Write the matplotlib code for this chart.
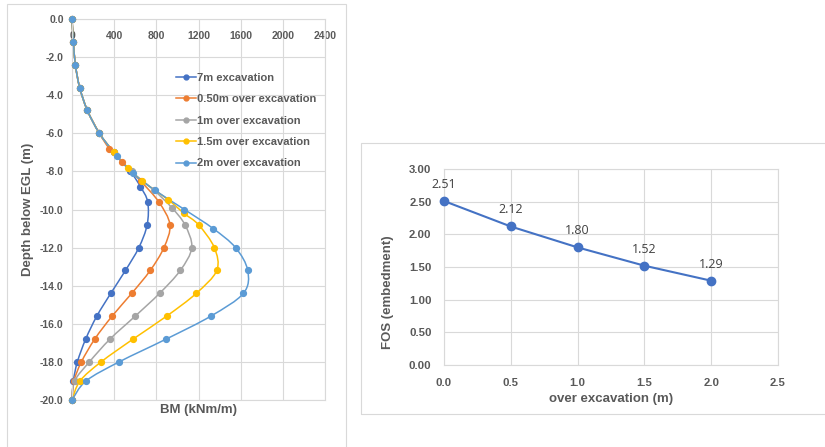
import numpy as np
import matplotlib
matplotlib.use("Agg")
import matplotlib.pyplot as plt
from matplotlib.path import Path
from matplotlib.patches import PathPatch, Rectangle
from matplotlib.lines import Line2D
from matplotlib.ticker import FormatStrFormatter

plt.rcParams['font.family'] = ['Liberation Sans', 'DejaVu Sans']

# BM profiles (kNm/m) vs depth below EGL (m)
names = ["7m excavation", "0.50m over excavation", "1m over excavation",
         "1.5m over excavation", "2m over excavation"]
colors = ["#4472C4", "#ED7D31", "#A5A5A5", "#FFC000", "#5B9BD5"]

depth_7 = [0, -1.2, -2.4, -3.6, -4.8, -6.0, -7.0, -8.0, -8.8, -9.6, -10.8,
           -12.0, -13.2, -14.4, -15.6, -16.8, -18.0, -19.0, -20.0]
bm_7 = [0, 13, 32, 73, 146, 260, 395, 554, 649, 718, 713,
        634, 507, 368, 235, 130, 51, 13, 0]

depth_05 = [0, -1.2, -2.4, -3.6, -4.8, -6.0, -6.8, -7.5, -8.5, -9.6, -10.8,
            -12.0, -13.2, -14.4, -15.6, -16.8, -18.0, -19.0, -20.0]
bm_05 = [0, 13, 32, 73, 146, 260, 354, 475, 650, 823, 929,
         872, 742, 567, 380, 216, 89, 19, 0]

depth_1 = [0, -1.2, -2.4, -3.6, -4.8, -6.0, -7.0, -8.0, -9.0, -9.9, -10.8,
           -12.0, -13.2, -14.4, -15.6, -16.8, -18.0, -19.0, -20.0]
bm_1 = [0, 13, 32, 73, 146, 260, 395, 565, 780, 946, 1071,
        1136, 1027, 831, 599, 361, 165, 25, 0]

depth_15 = [0, -1.2, -2.4, -3.6, -4.8, -6.0, -7.0, -7.8, -8.5, -9.5, -10.2,
            -10.8, -12.0, -13.2, -14.4, -15.6, -16.8, -18.0, -19.0, -20.0]
bm_15 = [0, 13, 32, 73, 146, 260, 400, 528, 665, 915, 1062,
         1200, 1350, 1373, 1179, 897, 580, 276, 76, 0]

depth_2 = [0, -1.2, -2.4, -3.6, -4.8, -6.0, -7.2, -8.1, -9.0, -10.0, -11.0,
           -12.0, -13.2, -14.4, -15.6, -16.8, -18.0, -19.0, -20.0]
bm_2 = [0, 13, 32, 73, 146, 260, 427, 577, 789, 1067, 1339,
        1551, 1667, 1626, 1316, 894, 447, 133, 0]

series_depth = [depth_7, depth_05, depth_1, depth_15, depth_2]
series_bm = [bm_7, bm_05, bm_1, bm_15, bm_2]

# FOS vs over excavation
over_exc = [0.0, 0.5, 1.0, 1.5, 2.0]
fos = [2.51, 2.12, 1.80, 1.52, 1.29]

grid_c = "#d9d9d9"
text_c = "#595959"


def smooth_path(xs, ys):
    # excel-like smoothed line: bezier segments through the points
    pts = np.column_stack([xs, ys]).astype(float)
    n = len(pts)
    verts = [pts[0]]
    codes = [Path.MOVETO]
    for i in range(n - 1):
        p0 = pts[max(i - 1, 0)]
        p1 = pts[i]
        p2 = pts[i + 1]
        p3 = pts[min(i + 2, n - 1)]
        verts += [p1 + (p2 - p0) / 6, p2 - (p3 - p1) / 6, p2]
        codes += [Path.CURVE4] * 3
    return Path(verts, codes)


fig = plt.figure(figsize=(8.25, 4.47), dpi=100)

# chart frames
fig.add_artist(Rectangle((7 / 825, -0.05), 339 / 825, 1 - 4 / 447 + 0.05,
                         transform=fig.transFigure, fill=False,
                         edgecolor=grid_c, lw=0.8))
fig.add_artist(Rectangle((361 / 825, 1 - 414 / 447), 0.6, 271 / 447,
                         transform=fig.transFigure, fill=False,
                         edgecolor=grid_c, lw=0.8))

# ---- left chart: BM profiles
ax1 = fig.add_axes([72 / 825, 1 - 400 / 447, 253 / 825, 381 / 447])
handles = []
for d, b, c, nm in zip(series_depth, series_bm, colors, names):
    ax1.add_patch(PathPatch(smooth_path(b, d), facecolor="none",
                            edgecolor=c, lw=1.1, clip_on=False))
    ax1.plot(b, d, "o", color=c, ms=4.2, clip_on=False, zorder=3)
    handles.append(Line2D([], [], color=c, lw=1.1, marker="o", ms=3.5))

ax1.set_xlim(0, 2400)
ax1.set_ylim(-20, 0)
ax1.set_xticks(range(0, 2401, 400))
ax1.set_yticks(np.arange(-20, 1, 2))
ax1.yaxis.set_major_formatter(FormatStrFormatter("%.1f"))
ax1.grid(True, color=grid_c, lw=0.8)
ax1.set_axisbelow(True)
for s in ax1.spines.values():
    s.set_color(grid_c)
ax1.tick_params(axis="x", bottom=False, labelbottom=False, top=True,
                labeltop=True, length=0, pad=-16, labelsize=7.5,
                labelcolor=text_c)
ax1.tick_params(axis="y", length=0, pad=6, labelsize=7.5, labelcolor=text_c)
for lab in ax1.get_xticklabels() + ax1.get_yticklabels():
    lab.set_fontweight("bold")
ax1.set_xlabel("BM (kNm/m)", fontsize=9.5, fontweight="bold", color=text_c)
ax1.xaxis.set_label_position("bottom")
ax1.xaxis.set_label_coords(0.5, -0.01)
ax1.set_ylabel("Depth below EGL (m)", fontsize=9.5, fontweight="bold",
               color=text_c)
ax1.yaxis.set_label_coords(-0.15, 0.5)
leg = ax1.legend(handles, names, loc="upper left",
                 bbox_to_anchor=(0.41, 0.859), frameon=False, borderpad=0,
                 borderaxespad=0, handlelength=1.8, handletextpad=0.1,
                 labelspacing=1.03, prop={"size": 8, "weight": "bold"})
for t in leg.get_texts():
    t.set_color(text_c)

# ---- right chart: FOS
ax2 = fig.add_axes([444 / 825, 1 - 365 / 447, 334 / 825, 196 / 447])
ax2.plot(over_exc, fos, "-o", color="#4472C4", lw=1.5, ms=6, clip_on=False,
         zorder=3)
for x, v in zip(over_exc, fos):
    ax2.annotate(f"{v:.2f}", (x, v), xytext=(0, 12), textcoords="offset points",
                 ha="center", va="center", fontsize=9, color="#404040",
                 family=["Open Sans", "DejaVu Sans"])
ax2.set_xlim(0, 2.5)
ax2.set_ylim(0, 3)
ax2.set_xticks(np.arange(0, 2.6, 0.5))
ax2.set_yticks(np.arange(0, 3.01, 0.5))
ax2.xaxis.set_major_formatter(FormatStrFormatter("%.1f"))
ax2.yaxis.set_major_formatter(FormatStrFormatter("%.2f"))
ax2.grid(True, color=grid_c, lw=0.8)
ax2.set_axisbelow(True)
for s in ax2.spines.values():
    s.set_color(grid_c)
ax2.tick_params(length=0, labelsize=8.2, labelcolor=text_c)
ax2.tick_params(axis="y", pad=9)
ax2.tick_params(axis="x", pad=9)
for lab in ax2.get_xticklabels() + ax2.get_yticklabels():
    lab.set_fontweight("bold")
ax2.set_xlabel("over excavation (m)", fontsize=9.5, fontweight="bold",
               color=text_c)
ax2.xaxis.set_label_coords(0.5, -0.145)
ax2.set_ylabel("FOS (embedment)", fontsize=9.5, fontweight="bold",
               color=text_c)
ax2.yaxis.set_label_coords(-0.15, 0.37)

fig.savefig("out.png", dpi=100)
